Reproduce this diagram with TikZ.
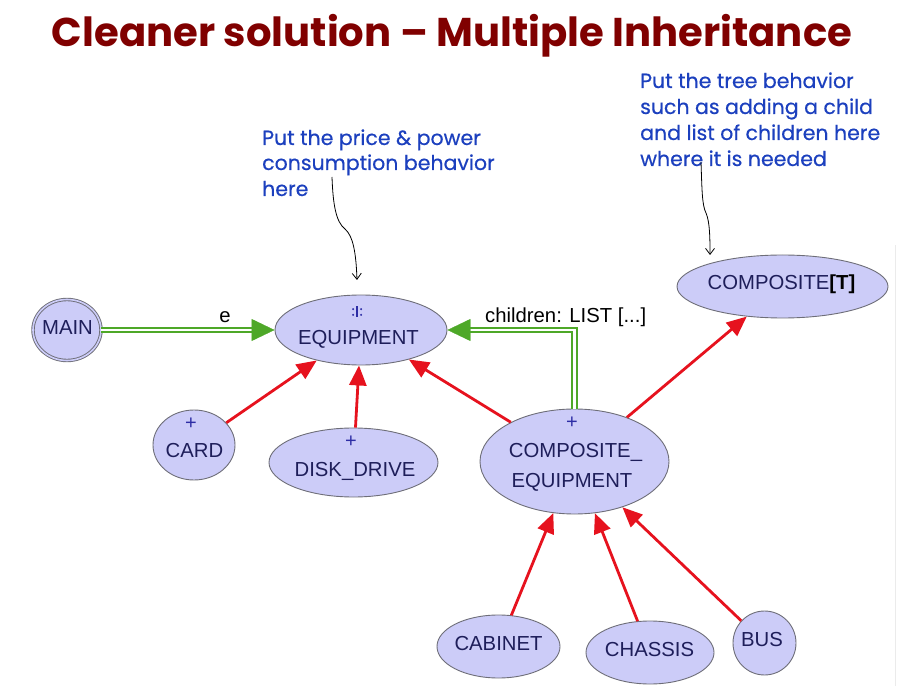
\documentclass[tikz,border=0pt]{standalone}
\usepackage{fontspec}
\usepackage{graphicx}
\setmainfont{Liberation Sans}
\newfontfamily\notefont{Poppins}
\newfontfamily\notefontb{Poppins}[FakeBold=0.5]
\usetikzlibrary{shapes.geometric,arrows.meta,decorations.markings,calc}
\definecolor{titlered}{RGB}{128,0,0}
\definecolor{noteblue}{RGB}{28,64,190}
\definecolor{nodefill}{RGB}{204,204,248}
\definecolor{nodeline}{RGB}{110,110,120}
\definecolor{nodetext}{RGB}{30,30,90}
\definecolor{plusblue}{RGB}{45,45,165}
\definecolor{inhred}{RGB}{230,18,30}
\definecolor{clientgreen}{RGB}{78,168,40}
\begin{document}
\begin{tikzpicture}[x=1pt,y=-1pt,
  cls/.style={ellipse, draw=nodeline, line width=0.9pt, fill=nodefill, inner sep=0pt},
  nm/.style={anchor=base, inner sep=0pt, text=nodetext, font=\fontsize{20.3}{24}\selectfont},
  plus/.style={inner sep=0pt, text=plusblue, font=\fontsize{20}{22}\selectfont},
  inh/.style={draw=inhred, line width=2.8pt, -{Triangle[length=20pt,width=17pt]}},
  gdouble/.style={draw=clientgreen, line width=1.8pt, double=white, double distance=2.6pt, shorten >=21pt},
  gtip/.style={decoration={markings, mark=at position 1 with {\arrow[clientgreen]{Triangle[length=23pt,width=22pt]}}}, decorate},
  lbl/.style={anchor=base, inner sep=0pt, text=black, font=\fontsize{20.3}{24}\selectfont},
  note/.style={anchor=base west, inner sep=0pt, text=noteblue, font=\notefontb\fontsize{20.5}{24}\selectfont},
  remark/.style={draw=black, line width=0.8pt, -{Straight Barb[length=6pt,width=9pt]}}
]
\useasboundingbox (0,0) rectangle (900,692);

% title
\node[anchor=base, inner sep=0pt, text=titlered] (title) at (452,47)
  {\resizebox{800pt}{!}{\notefont\bfseries Cleaner solution – Multiple Inheritance}};

% notes
\node[note] (n1a) at (262,145) {Put the price \& power};
\node[note] (n1b) at (262,170) {consumption behavior};
\node[note] (n1c) at (262,196) {here};
\node[note] (n2a) at (640,88) {Put the tree behavior};
\node[note] (n2b) at (640,114) {such as adding a child};
\node[note] (n2c) at (640,140) {and list of children here};
\node[note] (n2d) at (640,166) {where it is needed};

% classes
\node[cls, double=nodefill, double distance=1.6pt, minimum width=68pt, minimum height=61pt] (MAIN) at (67,330) {};
\node[nm] (tMAIN) at (67.5,335) {MAIN};

\node[cls, minimum width=172pt, minimum height=70pt] (EQUIPMENT) at (361,330) {};
\node[nm] (tEQ) at (358.5,345) {EQUIPMENT};
\fill[plusblue] (356.4,306.5) rectangle (357.8,317.5);
\foreach \dx in {-4,4} \foreach \dy in {-2.8,2.8}
  \fill[plusblue] ($(357.1,312)+(\dx,\dy)$) circle (1.1pt);

\node[cls, minimum width=82pt, minimum height=70pt] (CARD) at (194,445) {};
\node[plus] (pCARD) at (191,424) {+};
\node[nm] (tCARD) at (194.5,458) {CARD};

\node[cls, minimum width=169pt, minimum height=69pt] (DISK) at (353.5,462.5) {};
\node[plus] (pDISK) at (351,442) {+};
\node[nm] (tDISK) at (355,477) {DISK\_DRIVE};

\node[cls, minimum width=189pt, minimum height=105pt] (CE) at (574.5,461.5) {};
\node[plus] (pCE) at (572,423) {+};
\node[nm] (tCE1) at (575.5,457) {COMPOSITE\_};
\node[nm] (tCE2) at (572,487) {EQUIPMENT};

\node[cls, minimum width=211pt, minimum height=63pt] (COMPOSITE) at (782.5,286.5) {};
\node[nm] (tCOMP) at (781.5,290) {COMPOSITE{\color{black}\bfseries[T]}};

\node[cls, minimum width=123pt, minimum height=63pt] (CABINET) at (498.5,646.5) {};
\node[nm] (tCAB) at (498.5,650) {CABINET};

\node[cls, minimum width=128pt, minimum height=63pt] (CHASSIS) at (650,652.5) {};
\node[nm] (tCHA) at (649.5,656) {CHASSIS};

\node[cls, minimum width=63pt, minimum height=64pt] (BUS) at (764.5,643) {};
\node[nm] (tBUS) at (762,646) {BUS};

% inheritance
\draw[inh] (CARD) -- (EQUIPMENT);
\draw[inh] (DISK) -- (EQUIPMENT);
\draw[inh] (CE) -- (EQUIPMENT);
\draw[inh] (CE) -- (COMPOSITE);
\draw[inh] (CABINET) -- (CE);
\draw[inh] (CHASSIS) -- (CE);
\draw[inh] (BUS) -- (CE);

% client relations
\draw[gdouble] (MAIN) -- (EQUIPMENT);
\path[gtip] (MAIN) -- (EQUIPMENT);
\node[lbl] (le) at (225,323) {e};
\draw[gdouble] (CE.north) |- (EQUIPMENT.east);
\path[gtip] (CE.north) |- (EQUIPMENT.east);
\node[lbl, anchor=base west] (lch) at (485,323) {children: LIST [...]};

% remark arrows
\coordinate (r1s) at (332,177);
\coordinate (r1e) at (357,280);
\coordinate (r2s) at (701,162);
\coordinate (r2e) at (710,255);
\draw[remark] (r1s) .. controls (333,205) and (336,222) .. (345,229) .. controls (353,236) and (356,252) .. (r1e);
\draw[remark] (r2s) .. controls (702,190) and (702,205) .. (706,213) .. controls (710,222) and (710,240) .. (r2e);

% screenshot edge
\draw[black!8, line width=0.8pt] (895,245) -- (895,686);
\end{tikzpicture}
\end{document}
